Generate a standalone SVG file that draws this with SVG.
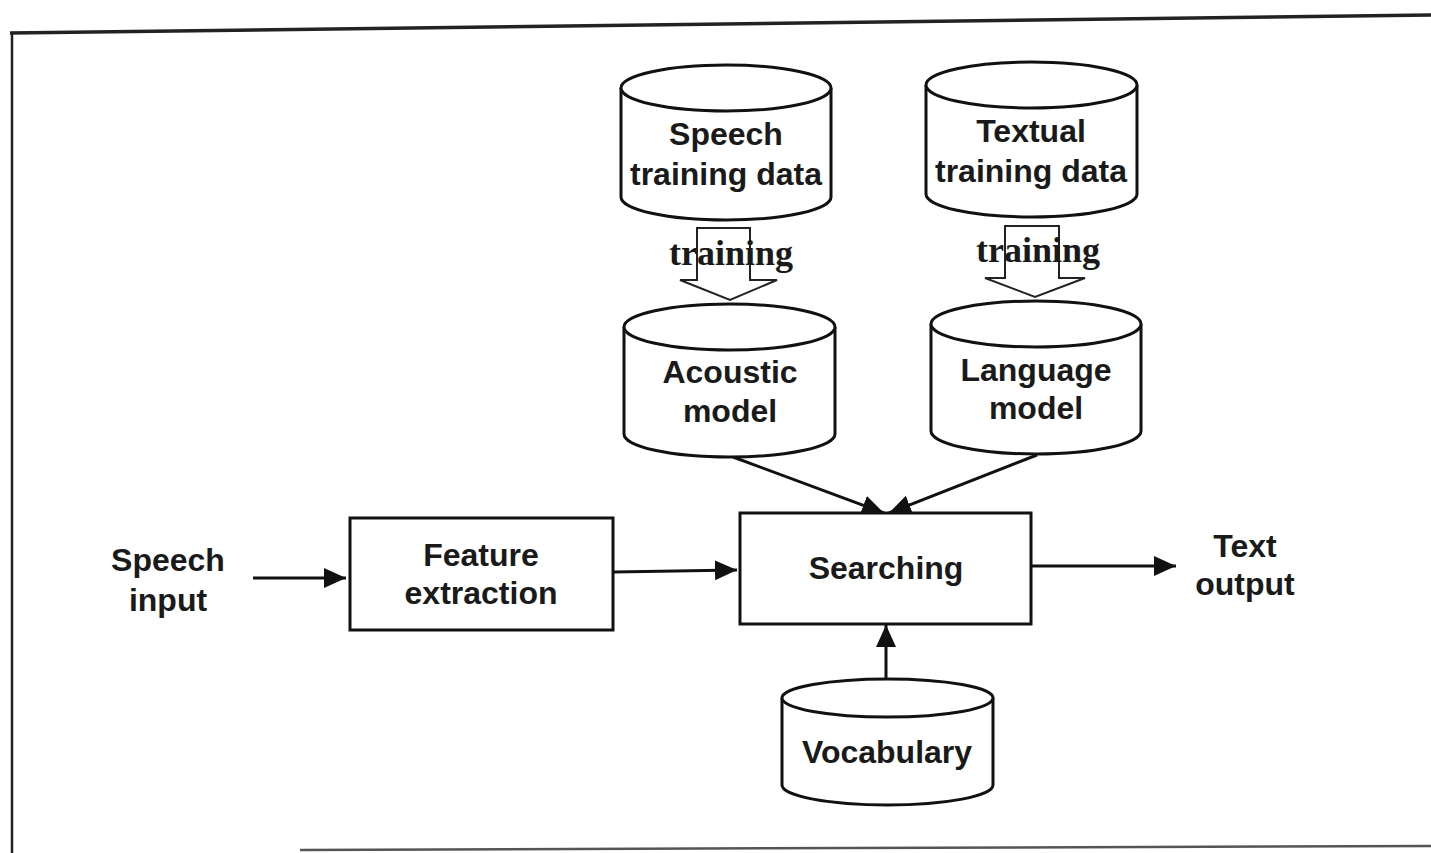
<svg xmlns="http://www.w3.org/2000/svg" width="1431" height="853" viewBox="0 0 1431 853">
  <style>
    .shape { fill: #fff; stroke: #111; stroke-width: 3; }
    .lbl { font-family: "Liberation Sans", Arial, sans-serif; font-weight: bold; font-size: 32px; fill: #1a1a1a; text-anchor: middle; }
    .train { font-family: "Liberation Serif", "Times New Roman", serif; font-weight: bold; font-size: 36px; fill: #1a1a1a; text-anchor: middle; }
    .wire { fill: none; stroke: #111; stroke-width: 3; }
    .hollow { fill: none; stroke: #222; stroke-width: 2; }
  </style>
  <defs>
    <marker id="head" markerUnits="userSpaceOnUse" markerWidth="24" markerHeight="22" refX="22" refY="10" orient="auto">
      <path d="M0,0 L22,10 L0,20 Z" fill="#111"/>
    </marker>
  </defs>
  <rect width="1431" height="853" fill="#fff"/>

  <!-- page frame -->
  <g id="frame" fill="none" stroke="#222">
    <path d="M10,33 L1431,15" stroke-width="3.5"/>
    <path d="M12,33 L12,853" stroke-width="2.5"/>
    <path d="M300,850 L1431,846" stroke="#555" stroke-width="2.5"/>
  </g>

  <!-- training arrows (hollow) -->
  <g id="train-acoustic">
    <polygon class="hollow" points="697,228 750,228 750,280 777,280 730,300 680,280 697,280"/>
    <text class="train" x="731" y="265">training</text>
  </g>
  <g id="train-language">
    <polygon class="hollow" points="1005,226 1059,226 1059,278 1085,278 1035,297 985,278 1005,278"/>
    <text class="train" x="1038" y="262">training</text>
  </g>

  <!-- connectors -->
  <g id="connectors">
    <line class="wire" x1="253" y1="578" x2="346" y2="578" marker-end="url(#head)"/>
    <line class="wire" x1="614" y1="572" x2="737" y2="570" marker-end="url(#head)"/>
    <line class="wire" x1="1031" y1="566" x2="1176" y2="566" marker-end="url(#head)"/>
    <line class="wire" x1="733" y1="457" x2="884" y2="513" marker-end="url(#head)"/>
    <line class="wire" x1="1037" y1="455" x2="889" y2="513" marker-end="url(#head)"/>
    <line class="wire" x1="886" y1="679" x2="886" y2="625" marker-end="url(#head)"/>
  </g>

  <!-- data stores -->
  <g id="speech-training-data">
    <path class="shape" d="M621,88 L621,197 A105,23 0 0 0 831,197 L831,88"/>
    <ellipse class="shape" cx="726" cy="88" rx="105" ry="23"/>
    <text class="lbl" x="726" y="145">Speech</text>
    <text class="lbl" x="726" y="185">training data</text>
  </g>
  <g id="textual-training-data">
    <path class="shape" d="M926,85 L926,194 A105.5,23 0 0 0 1137,194 L1137,85"/>
    <ellipse class="shape" cx="1031.5" cy="85" rx="105.5" ry="23"/>
    <text class="lbl" x="1031" y="142">Textual</text>
    <text class="lbl" x="1031" y="182">training data</text>
  </g>
  <g id="acoustic-model">
    <path class="shape" d="M624,327 L624,434 A105.5,23 0 0 0 835,434 L835,327"/>
    <ellipse class="shape" cx="729.5" cy="327" rx="105.5" ry="23"/>
    <text class="lbl" x="730" y="383">Acoustic</text>
    <text class="lbl" x="730" y="422">model</text>
  </g>
  <g id="language-model">
    <path class="shape" d="M931,324 L931,431 A105,23 0 0 0 1141,431 L1141,324"/>
    <ellipse class="shape" cx="1036" cy="324" rx="105" ry="23"/>
    <text class="lbl" x="1036" y="381">Language</text>
    <text class="lbl" x="1036" y="419">model</text>
  </g>
  <g id="vocabulary">
    <path class="shape" d="M782,698 L782,785 A105.5,20 0 0 0 993,785 L993,698"/>
    <ellipse class="shape" cx="887.5" cy="698" rx="105.5" ry="19"/>
    <text class="lbl" x="887" y="763">Vocabulary</text>
  </g>

  <!-- processing blocks -->
  <g id="feature-extraction">
    <rect class="shape" x="350" y="518" width="263" height="112"/>
    <text class="lbl" x="481" y="566">Feature</text>
    <text class="lbl" x="481" y="604">extraction</text>
  </g>
  <g id="searching">
    <rect class="shape" x="740" y="513" width="291" height="111"/>
    <text class="lbl" x="886" y="579">Searching</text>
  </g>

  <!-- terminals -->
  <g id="speech-input">
    <text class="lbl" x="168" y="571">Speech</text>
    <text class="lbl" x="168" y="611">input</text>
  </g>
  <g id="text-output">
    <text class="lbl" x="1245" y="557">Text</text>
    <text class="lbl" x="1245" y="595">output</text>
  </g>
</svg>
